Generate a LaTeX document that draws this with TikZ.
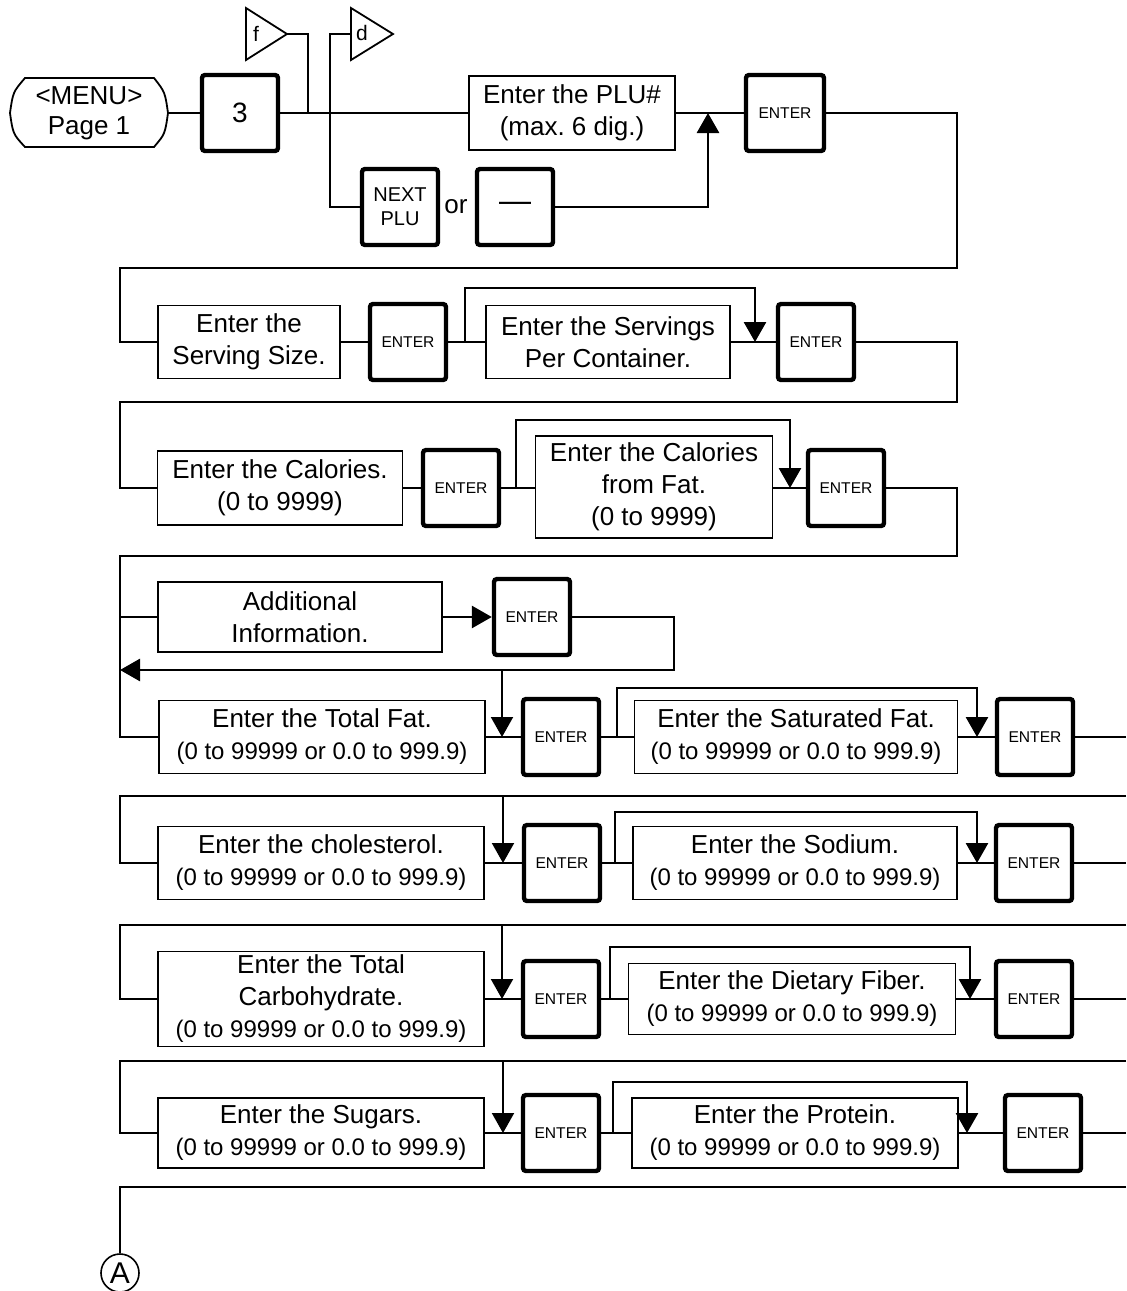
\documentclass[tikz,border=0pt]{standalone}
\usepackage{fontspec}
\setmainfont{Liberation Sans}
\usetikzlibrary{arrows.meta, positioning, calc}
\newcommand{\rangeline}[1]{{\fontsize{12}{16}\selectfont #1}}
\frenchspacing

\begin{document}
\begin{tikzpicture}[x=0.5pt, y=-0.5pt,
  flow/.style={line width=1.4pt},
  thinflow/.style={line width=1pt},
  tip/.style={-{Triangle[length=10pt, width=11pt]}},
  entrybox/.style={draw, line width=0.9pt, align=center, inner sep=0pt, font=\fontsize{13}{16}\selectfont},
  keybox/.style={draw, line width=2.2pt, rounded corners=1.5pt, minimum width=38pt, minimum height=38pt, inner sep=0pt, align=center},
  enterkey/.style={keybox, font=\fontsize{7.8}{9}\selectfont}]
\useasboundingbox (0,0) rectangle (1126,1291);

% top row
\draw[line width=0.9pt] (25,78) -- (154,78) .. controls (165,92) .. (168,113)
  .. controls (165,134) .. (154,147) -- (25,147) .. controls (13,134) .. (10,113)
  .. controls (13,92) .. cycle;
\node[minimum width=79pt, minimum height=34.5pt, inner sep=0pt, align=center, font=\fontsize{13}{15}\selectfont] (menu) at (89,113) {<MENU>\\Page 1};
\node[keybox, font=\fontsize{14}{16}\selectfont] (key3) at (240,113) {3};
\node[entrybox, minimum width=103pt, minimum height=37pt] (plu) at (572,113) {Enter the PLU\#\\(max. 6 dig.)};
\node[enterkey, minimum width=39pt] (enter0) at (785,113) {ENTER};
\node[keybox, font=\fontsize{10}{12}\selectfont] (nextplu) at (400,207) {NEXT\\PLU};
\node[font=\fontsize{13}{16}\selectfont] (ortext) at (456,207) {or};
\node[keybox, font=\fontsize{16}{16}\selectfont] (dash) at (515,207) {\raisebox{-2.5pt}{—}};
\draw[flow] (menu.east) -- (key3.west);
\draw[flow] (key3.east) -- (plu.west);
\draw[flow] (plu.east) -- (enter0.west);

% f and d triangles
\draw[line width=0.9pt] (246,8) -- (287,34) -- (246,60) -- cycle;
\node[font=\fontsize{10.5}{11}\selectfont] (flab) at (256,34) {f};
\draw[line width=0.9pt] (351,8) -- (393,34) -- (351,60) -- cycle;
\node[font=\fontsize{10.5}{11}\selectfont] (dlab) at (362,33) {d};
\coordinate (ftip) at (287,34);
\coordinate (fjoin) at (308,113);
\coordinate (dbase) at (351,34);
\coordinate (pluin) at (708,113);
\draw[flow] (ftip) -| (fjoin);
\draw[flow] (dbase) -- ++(-21,0) |- (nextplu.west);
\draw[flow, tip] (dash.east) -| (pluin);

% serving size
\node[entrybox, minimum width=91pt, minimum height=36.5pt] (serv) at (249,342) {Enter the\\Serving Size.};
\node[enterkey] (enter1a) at (408,342) {ENTER};
\node[entrybox, minimum width=122pt, minimum height=36.5pt] (servpc) at (608,342) {Enter the Servings\\Per Container.};
\node[enterkey] (enter1b) at (816,342) {ENTER};
\coordinate (j1) at (465,342);
\coordinate (m1) at (755,342);
\draw[flow] (enter0.east) -| (957,268) -- (120,268) |- (serv.west);
\draw[flow] (serv) -- (enter1a);
\draw[flow] (enter1a) -- (servpc);
\draw[flow] (servpc) -- (enter1b);
\draw[flow, tip] (j1) -- ++(0,-54) -| (m1);

% calories
\node[entrybox, minimum width=122.5pt, minimum height=37pt] (cal) at (280,488) {Enter the Calories.\\(0 to 9999)};
\node[enterkey] (enter2a) at (461,488) {ENTER};
\node[entrybox, minimum width=118.5pt, minimum height=51pt] (calfat) at (654,487) {Enter the Calories\\from Fat.\\(0 to 9999)};
\node[enterkey] (enter2b) at (846,488) {ENTER};
\coordinate (j2) at (516,488);
\coordinate (m2) at (790,488);
\draw[flow] (enter1b.east) -| (957,402) -- (120,402) |- (cal.west);
\draw[flow] (cal) -- (enter2a);
\draw[flow] (enter2a.east) -- (enter2a.east -| calfat.west);
\draw[flow] (enter2a.east -| calfat.east) -- (enter2b.west);
\draw[flow, tip] (j2) -- ++(0,-68) -| (m2);

% additional information
\node[entrybox, minimum width=142pt, minimum height=35pt] (addinfo) at (300,617) {Additional\\Information.};
\node[enterkey] (enter3) at (532,617) {ENTER};
\draw[flow] (120,617) -- (addinfo.west);
\draw[flow, tip] (addinfo) -- (enter3);
\draw[flow, tip] (enter3.east) -| (674,670) -- (120,670);
\draw[thinflow, tip] (502,670) -- (502,737);

% total fat
\node[entrybox, minimum width=163pt, minimum height=36.5pt] (tfat) at (322,737) {Enter the Total Fat.\\\rangeline{(0 to 99999 or 0.0 to 999.9)}};
\node[enterkey] (enter4a) at (561,737) {ENTER};
\node[entrybox, minimum width=161.5pt, minimum height=36.5pt] (satfat) at (796,737) {Enter the Saturated Fat.\\\rangeline{(0 to 99999 or 0.0 to 999.9)}};
\node[enterkey] (enter4b) at (1035,737) {ENTER};
\coordinate (j4) at (617,737);
\coordinate (m4) at (977,737);
\draw[flow] (enter2b.east) -| (957,556) -- (120,556) |- (tfat.west);
\draw[flow] (tfat) -- (enter4a);
\draw[flow] (enter4a) -- (satfat);
\draw[flow] (satfat) -- (enter4b);
\draw[flow, tip] (j4) -- ++(0,-49) -| (m4);
\draw[flow] (enter4b.east) -- (1126,737);

% cholesterol
\node[entrybox, minimum width=163pt, minimum height=36.5pt] (chol) at (321,863) {Enter the cholesterol.\\\rangeline{(0 to 99999 or 0.0 to 999.9)}};
\node[enterkey] (enter5a) at (562,863) {ENTER};
\node[entrybox, minimum width=162pt, minimum height=36.5pt] (sodium) at (795,863) {Enter the Sodium.\\\rangeline{(0 to 99999 or 0.0 to 999.9)}};
\node[enterkey] (enter5b) at (1034,863) {ENTER};
\coordinate (j5) at (615,863);
\coordinate (m5) at (977,863);
\draw[flow] (1126,796) -- (120,796) |- (chol.west);
\draw[thinflow, tip] (503,796) -- (503,863);
\draw[flow] (chol) -- (enter5a);
\draw[flow] (enter5a) -- (sodium);
\draw[flow] (sodium) -- (enter5b);
\draw[flow, tip] (j5) -- ++(0,-51) -| (m5);
\draw[flow] (enter5b.east) -- (1126,863);

% carbohydrate
\node[entrybox, minimum width=163pt, minimum height=47.5pt] (carb) at (321,999) {Enter the Total\\Carbohydrate.\\\rangeline{(0 to 99999 or 0.0 to 999.9)}};
\node[enterkey] (enter6a) at (561,999) {ENTER};
\node[entrybox, minimum width=163.5pt, minimum height=35.5pt] (fiber) at (792,999) {Enter the Dietary Fiber.\\\rangeline{(0 to 99999 or 0.0 to 999.9)}};
\node[enterkey] (enter6b) at (1034,999) {ENTER};
\coordinate (j6) at (610,999);
\coordinate (m6) at (970,999);
\draw[flow] (1126,925) -- (120,925) |- (carb.west);
\draw[thinflow, tip] (502,925) -- (502,999);
\draw[flow] (carb) -- (enter6a);
\draw[flow] (enter6a) -- (fiber);
\draw[flow] (fiber) -- (enter6b);
\draw[flow, tip] (j6) -- ++(0,-52) -| (m6);
\draw[flow] (enter6b.east) -- (1126,999);

% sugars
\node[entrybox, minimum width=163pt, minimum height=35pt] (sugars) at (321,1133) {Enter the Sugars.\\\rangeline{(0 to 99999 or 0.0 to 999.9)}};
\node[enterkey] (enter7a) at (561,1133) {ENTER};
\node[entrybox, minimum width=163pt, minimum height=35pt] (protein) at (795,1133) {Enter the Protein.\\\rangeline{(0 to 99999 or 0.0 to 999.9)}};
\node[enterkey] (enter7b) at (1043,1133) {ENTER};
\coordinate (j7) at (613,1133);
\coordinate (m7) at (967,1133);
\draw[flow] (1126,1061) -- (120,1061) |- (sugars.west);
\draw[thinflow, tip] (503,1061) -- (503,1133);
\draw[flow] (sugars) -- (enter7a);
\draw[flow] (enter7a) -- (protein);
\draw[flow] (protein) -- (enter7b);
\draw[flow, tip] (j7) -- ++(0,-51) -| (m7);
\draw[flow] (enter7b.east) -- (1126,1133);

% connector A
\node[circle, draw, line width=0.8pt, minimum size=19pt, inner sep=0pt, font=\fontsize{15}{15}\selectfont] (conA) at (120,1273) {A};
\draw[flow] (1126,1187) -- (120,1187) -- (conA.north);
\end{tikzpicture}
\end{document}
